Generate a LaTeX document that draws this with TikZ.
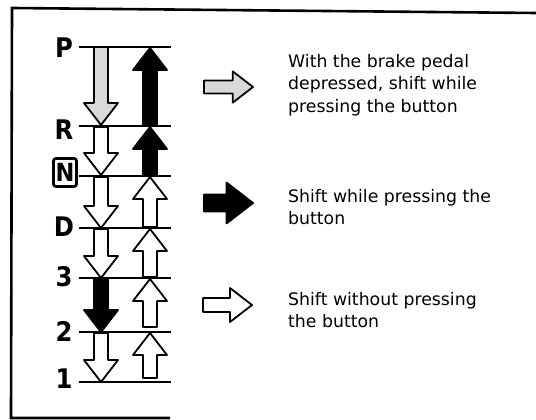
\documentclass[tikz,border=0pt]{standalone}
\usepackage{fontspec}
\setmainfont{DejaVu Sans}
\newfontfamily\gearfont{DejaVu Sans Condensed}

% block arrow: [scale]{style}{x}{y}{length}{angle}
\newcommand{\shiftarrow}[6][1]{%
  \begin{scope}[shift={(#3,#4)},rotate=#6,scale=#1]
    \draw[#2] (0,-7) -- ({(#5)/#1-22},-7) -- ({(#5)/#1-22},-17) -- ({(#5)/#1},0)
      -- ({(#5)/#1-22},17) -- ({(#5)/#1-22},7) -- (0,7) -- cycle;
  \end{scope}}

\begin{document}
\begin{tikzpicture}[x=1pt,y=-1pt,
  frame/.style={line width=2.6pt},
  rung/.style={line width=1.8pt},
  shaft/.style={draw=black,line width=1.8pt,line join=round},
  gear/.style={inner sep=0pt,font=\gearfont\bfseries\fontsize{27}{27}\selectfont},
  ngear/.style={draw=black,line width=2.8pt,rounded corners=2.5pt,inner sep=0pt,
    minimum width=23pt,minimum height=28pt,font=\gearfont\bfseries\fontsize{25}{25}\selectfont},
  legend/.style={anchor=north west,inner sep=0pt,align=left,font=\fontsize{17.3}{22.5}\selectfont}]
\useasboundingbox (0,0) rectangle (536,420);
% frame (open on the right)
\coordinate (fr-tr) at (536,13);
\coordinate (fr-tl) at (12,8);
\coordinate (fr-bl) at (11,418);
\coordinate (fr-br) at (170,418);
\draw[frame] (fr-tr) -- (fr-tl) -- (fr-bl) -- (fr-br);
% gear positions
\foreach \g/\y in {P/47,R/126,N/176,D/228,3/278,2/332,1/382} {
  \coordinate (\g-l) at (79,\y);
  \coordinate (\g-r) at (171,\y);
  \draw[rung] (\g-l) -- (\g-r);
}
\foreach \g/\y in {P/48,R/130,D/227,3/277,2/331,1/379} \node[gear] (g\g) at (64,\y) {\g};
\node[gear,ngear] (gN) at (65,172.5) {N};
% down shifts
\foreach \ya/\yb/\f in {47/125/gray!30,127/175/white,177/228/white,229/278/white,279/332/black,333/382/white}
  {\shiftarrow{shaft,fill=\f}{101}{\ya}{\yb-\ya}{-90}}
% up shifts
\foreach \ya/\yb/\f in {126/48/black,176/127/black,227/177/white,277/229/white,327/279/white,378/333/white}
  {\shiftarrow{shaft,fill=\f}{150}{\ya}{\ya-\yb}{90}}
% legend
\shiftarrow[0.92]{shaft,fill=gray!30}{204}{87}{49}{0}
\shiftarrow[1.2]{shaft,fill=black}{204}{203}{49}{0}
\shiftarrow{shaft,fill=white}{203}{305}{49}{0}
\node[legend] (brake) at (288,54) {With the brake pedal\\depressed, shift while\\pressing the button};
\node[legend] (button) at (288,189) {Shift while pressing the\\button};
\node[legend] (free) at (288,292) {Shift without pressing\\the button};
\end{tikzpicture}
\end{document}
